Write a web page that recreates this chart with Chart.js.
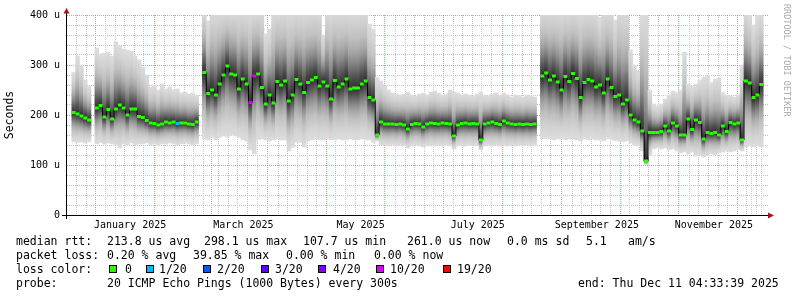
<!DOCTYPE html>
<html>
<head>
<meta charset="utf-8">
<script src="https://cdn.jsdelivr.net/npm/chart.js@4.4.1/dist/chart.umd.min.js"></script>
<style>
  body { margin: 0; background: #fff; }
  #wrap { position: relative; width: 797px; height: 297px; overflow: hidden; background: #fff; }
  .t { position: absolute; font: 11.5px/14px "DejaVu Sans Mono", monospace; white-space: pre; color: #000; }
  .sw { position: absolute; top: 265px; width: 6px; height: 6px; border: 1px solid #000; }
  #wm { position: absolute; left: 792px; top: 4px; transform-origin: 0 0; transform: rotate(90deg);
        font: 8.5px/10px "DejaVu Sans Mono", monospace; color: #aaa; white-space: pre; }
</style>
</head>
<body>
<div id="wrap">
  <canvas id="chart" width="797" height="297"></canvas>
  <div id="wm">RRDTOOL / TOBI OETIKER</div>

  <div class="t" style="left:16px;top:234px">median rtt:</div>
  <div class="t" style="left:107px;top:234px">213.8 us avg</div>
  <div class="t" style="left:204px;top:234px">298.1 us max</div>
  <div class="t" style="left:303px;top:234px">107.7 us min</div>
  <div class="t" style="left:407px;top:234px">261.0 us now</div>
  <div class="t" style="left:507px;top:234px">0.0 ms sd</div>
  <div class="t" style="left:586px;top:234px">5.1</div>
  <div class="t" style="left:628px;top:234px">am/s</div>

  <div class="t" style="left:16px;top:248px">packet loss:</div>
  <div class="t" style="left:107px;top:248px">0.20 % avg</div>
  <div class="t" style="left:193px;top:248px">39.85 % max</div>
  <div class="t" style="left:286px;top:248px">0.00 % min</div>
  <div class="t" style="left:374px;top:248px">0.00 % now</div>

  <div class="t" style="left:16px;top:262px">loss color:</div>
  <div class="sw" style="left:109px;background:#26ff00"></div><div class="t" style="left:125px;top:262px">0</div>
  <div class="sw" style="left:146px;background:#00b8ff"></div><div class="t" style="left:159px;top:262px">1/20</div>
  <div class="sw" style="left:203px;background:#0059ff"></div><div class="t" style="left:217px;top:262px">2/20</div>
  <div class="sw" style="left:261px;background:#5e00ff"></div><div class="t" style="left:275px;top:262px">3/20</div>
  <div class="sw" style="left:318px;background:#7e00ff"></div><div class="t" style="left:333px;top:262px">4/20</div>
  <div class="sw" style="left:376px;background:#dd00ff"></div><div class="t" style="left:390px;top:262px">10/20</div>
  <div class="sw" style="left:443px;background:#ff0000"></div><div class="t" style="left:457px;top:262px">19/20</div>

  <div class="t" style="left:16px;top:276px">probe:</div>
  <div class="t" style="left:107px;top:276px">20 ICMP Echo Pings (1000 Bytes) every 300s</div>
  <div class="t" style="left:578px;top:276px">end: Thu Dec 11 04:33:39 2025</div>
</div>

<script>
// x axis is in days since 2024-12-17; one column = 2 days, column i centred on day 2i+1
const monthStarts = [15, 46, 74, 105, 135, 166, 196, 227, 258, 288, 319, 349];
const minorDays = [5, 10, 354, 359];
const monthLabelDays = [15, 74, 135, 196, 258, 319];
const monthLabels = ['January 2025', 'March 2025', 'May 2025', 'July 2025', 'September 2025', 'November 2025'];
const yLabels = { 0: '0', 100: '100 u', 200: '200 u', 300: '300 u', 400: '400 u' };

// median rtt per column (us), null = no data
const med = [
  205, 202, 198, 194, 190, null, 214, 219, 196, 211,
  192, 212, 220, 214, 200, 212, 212, 197, 195, 189,
  184, 183, 180, 182, 186, 184, 186, 183, 184, 184,
  182, 181, 186, null, 285, 243, 250, 240, 262, 280,
  298, 282, 280, 252, 272, 262, 225, 278, 282, 255,
  222, 240, 224, 267, 260, 268, 228, 240, 271, 262,
  245, 265, 270, 275, 258, 266, 258, 232, 269, 256,
  262, 272, 252, 254, 254, 262, 268, 235, 230, 160,
  186, 182, 182, 182, 181, 182, 180, 172, 181, 183,
  182, 176, 182, 184, 183, 182, 184, 183, 182, 158,
  180, 183, 184, 182, 183, 182, 150, 182, 184, 186,
  183, 181, 188, 184, 182, 181, 182, 181, 182, 181,
  182, null, 278, 284, 270, 278, 266, 250, 277, 267,
  283, 273, 235, 265, 271, 268, 256, 260, 244, 272,
  255, 237, 240, 222, 230, 200, 190, 186, 168, 108,
  165, 165, 165, 167, 178, 168, 184, 178, 160, 160,
  192, 171, 190, 185, 152, 165, 163, 165, 160, 178,
  167, 185, 182, 184, 150, 268, 264, 235, 240, 261
];

// slowest ping per column (top of the smoke)
const hi = [
  285, 318, 300, 270, 258, null, 334, 322, 324, 326,
  318, 346, 338, 332, 330, 328, 318, 310, 296, 280,
  256, 260, 250, 262, 252, 256, 250, 252, 244, 246,
  242, 244, 240, null, 420, 388, 420, 420, 420, 420,
  420, 420, 420, 420, 420, 420, 420, 420, 420, 420,
  362, 372, 420, 420, 420, 420, 420, 420, 420, 420,
  420, 420, 420, 420, 420, 360, 420, 420, 420, 420,
  420, 420, 420, 420, 420, 420, 420, 382, 372, 275,
  268, 258, 250, 244, 242, 240, 242, 246, 240, 238,
  242, 244, 240, 246, 248, 244, 240, 242, 250, 246,
  244, 240, 242, 240, 238, 242, 246, 240, 238, 242,
  244, 240, 244, 240, 236, 240, 238, 236, 240, 238,
  236, null, 420, 420, 420, 420, 420, 420, 420, 420,
  420, 420, 420, 420, 420, 420, 420, 395, 420, 420,
  420, 390, 420, 420, 420, 330, 300, 290, 410, 420,
  250, 222, 218, 222, 232, 240, 248, 245, 250, 326,
  262, 258, 262, 270, 276, 280, 265, 272, 275, 245,
  240, 238, 236, 240, 300, 420, 405, 380, 400, 410
];

// fastest ping per column (bottom of the smoke)
const lo = [
  146, 145, 146, 144, 146, null, 142, 145, 142, 144,
  142, 140, 134, 142, 140, 144, 140, 142, 142, 144,
  140, 142, 140, 142, 142, 144, 142, 140, 142, 144,
  142, 140, 142, null, 152, 150, 155, 150, 155, 158,
  156, 160, 158, 155, 150, 148, 130, 122, 150, 152,
  150, 148, 150, 152, 150, 150, 128, 135, 145, 145,
  136, 148, 150, 152, 150, 150, 152, 150, 150, 152,
  150, 150, 152, 150, 150, 152, 150, 150, 145, 148,
  140, 140, 138, 140, 138, 140, 138, 134, 138, 140,
  138, 136, 138, 140, 138, 140, 138, 140, 138, 132,
  138, 140, 138, 140, 138, 140, 130, 138, 140, 138,
  140, 138, 140, 138, 140, 138, 140, 138, 140, 138,
  140, null, 152, 153, 152, 150, 152, 153, 150, 152,
  152, 150, 148, 152, 150, 152, 150, 150, 148, 152,
  150, 148, 148, 146, 148, 144, 140, 138, 128, 100,
  118, 132, 134, 132, 134, 130, 132, 128, 124, 126,
  122, 126, 118, 120, 116, 118, 122, 120, 124, 126,
  128, 126, 128, 130, 128, 136, 138, 136, 138, 136
];

// columns with packet loss: [column, lost pings of 20]
const lossAt = [[27, 1], [46, 10], [47, 10]];
const lossLevels = [0, 1, 2, 3, 4, 10, 19];
const lossColors = ['#26ff00', '#00b8ff', '#0059ff', '#5e00ff', '#7e00ff', '#dd00ff', '#ff0000'];

const MAJOR = 'rgba(225, 70, 70, 0.6)';
const MINOR = '#c4c4c4';
// gray of the smoke by distance from the median (0) to the outermost ping (1)
const SMOKE = [[0, 0x30], [0.1, 0x48], [0.2, 0x66], [0.32, 0x8a], [0.45, 0xa8], [0.6, 0xc0], [0.8, 0xd2], [1, 0xdd]];

const gray = v => { const h = v.toString(16).padStart(2, '0'); return '#' + h + h + h; };

function lossColor(i) {
  const hit = lossAt.find(p => p[0] === i);
  const n = hit ? hit[1] : 0;
  let k = 0;
  lossLevels.forEach((lv, j) => { if (n >= lv) k = j; });
  return lossColors[k];
}

function smokeFill(c) {
  if (c.type !== 'data' || !c.chart.chartArea) return '#dddddd';
  const i = c.raw.i, y = c.chart.scales.y;
  const top = y.getPixelForValue(hi[i]);
  const bot = y.getPixelForValue(lo[i]);
  const mid = y.getPixelForValue(med[i]);
  const m = Math.min(Math.max((mid - top) / (bot - top), 0), 1);
  const g = c.chart.ctx.createLinearGradient(0, top, 0, bot);
  SMOKE.forEach(([d, v]) => {
    g.addColorStop(m * (1 - d), gray(v));
    g.addColorStop(m + (1 - m) * d, gray(v));
  });
  return g;
}

const colDay = med.map((_, i) => 2 * i + 1);
const smokeData = [], pointData = [];
med.forEach((v, i) => {
  if (v === null) return;
  smokeData.push({ x: colDay[i], y: [lo[i], hi[i]], i });
  pointData.push({ x: colDay[i], y: v, i });
});
const lineData = med.map((v, i) => ({ x: colDay[i], y: v }));

// axis lines with the little rrdtool arrows
const rrdAxes = {
  id: 'rrdAxes',
  afterDatasetsDraw(chart) {
    const { ctx, chartArea: a } = chart;
    ctx.save();
    ctx.strokeStyle = '#000';
    ctx.lineWidth = 1;
    ctx.beginPath();
    ctx.moveTo(a.left - 5, a.bottom + 0.5);
    ctx.lineTo(a.right + 2, a.bottom + 0.5);
    ctx.moveTo(a.left - 0.5, a.bottom + 4);
    ctx.lineTo(a.left - 0.5, a.top - 3);
    ctx.stroke();
    ctx.fillStyle = '#a31515';
    ctx.beginPath();
    ctx.moveTo(a.right, a.bottom - 2.5);
    ctx.lineTo(a.right + 6, a.bottom + 0.5);
    ctx.lineTo(a.right, a.bottom + 3.5);
    ctx.fill();
    ctx.beginPath();
    ctx.moveTo(a.left - 3.5, a.top - 1.5);
    ctx.lineTo(a.left - 0.5, a.top - 7);
    ctx.lineTo(a.left + 2.5, a.top - 1.5);
    ctx.fill();
    ctx.restore();
  }
};

const mono = 'DejaVu Sans Mono';

new Chart(document.getElementById('chart'), {
  type: 'bar',
  data: {
    datasets: [
      {
        type: 'scatter',
        data: pointData,
        order: 0,
        pointStyle: 'line',
        pointRadius: 2,
        pointBorderWidth: 3,
        pointBorderColor: c => (c.raw ? lossColor(c.raw.i) : lossColors[0]),
        pointBackgroundColor: c => (c.raw ? lossColor(c.raw.i) : lossColors[0])
      },
      {
        type: 'line',
        data: lineData,
        order: 1,
        stepped: 'middle',
        spanGaps: false,
        borderColor: '#000',
        borderWidth: 1,
        pointRadius: 0
      },
      {
        type: 'bar',
        data: smokeData,
        order: 2,
        clip: 0,
        barPercentage: 1,
        categoryPercentage: 1,
        borderWidth: 0,
        backgroundColor: smokeFill
      }
    ]
  },
  options: {
    responsive: false,
    animation: false,
    events: [],
    layout: { padding: { top: 15, right: 29, left: 0, bottom: 0 } },
    plugins: { legend: { display: false }, tooltip: { enabled: false } },
    scales: {
      x: {
        type: 'linear',
        min: 0,
        max: 360,
        afterBuildTicks(s) {
          const days = monthStarts.concat(minorDays);
          monthStarts.forEach(d => { for (let k = 5; k <= 25; k += 5) days.push(d + k); });
          s.ticks = days.filter(d => d < 360).sort((a, b) => a - b).map(value => ({ value }));
        },
        afterFit(s) { s.height = 82; },
        grid: {
          drawTicks: false,
          lineWidth: 1,
          color: c => (c.tick && monthStarts.includes(c.tick.value) ? MAJOR : MINOR)
        },
        border: { display: false, dash: [1, 1] },
        ticks: {
          autoSkip: false,
          maxRotation: 0,
          padding: 4,
          labelOffset: 29.5,
          color: '#000',
          font: { family: mono, size: 10 },
          callback: v => {
            const k = monthLabelDays.indexOf(v);
            return k >= 0 ? monthLabels[k] : '';
          }
        }
      },
      y: {
        min: 0,
        max: 400,
        afterFit(s) { s.width = 67; },
        grid: {
          drawTicks: false,
          lineWidth: 1,
          color: c => (c.tick && c.tick.value % 100 === 0 ? MAJOR : MINOR)
        },
        border: { display: false, dash: [1, 1] },
        ticks: {
          autoSkip: false,
          stepSize: 20,
          padding: 7,
          color: '#000',
          font: { family: mono, size: 10 },
          callback: v => yLabels[v] || ''
        },
        title: {
          display: true,
          text: 'Seconds',
          color: '#000',
          font: { family: mono, size: 11.5 },
          padding: { top: 3.5, bottom: 0 }
        }
      }
    }
  },
  plugins: [rrdAxes]
});
</script>
</body>
</html>
